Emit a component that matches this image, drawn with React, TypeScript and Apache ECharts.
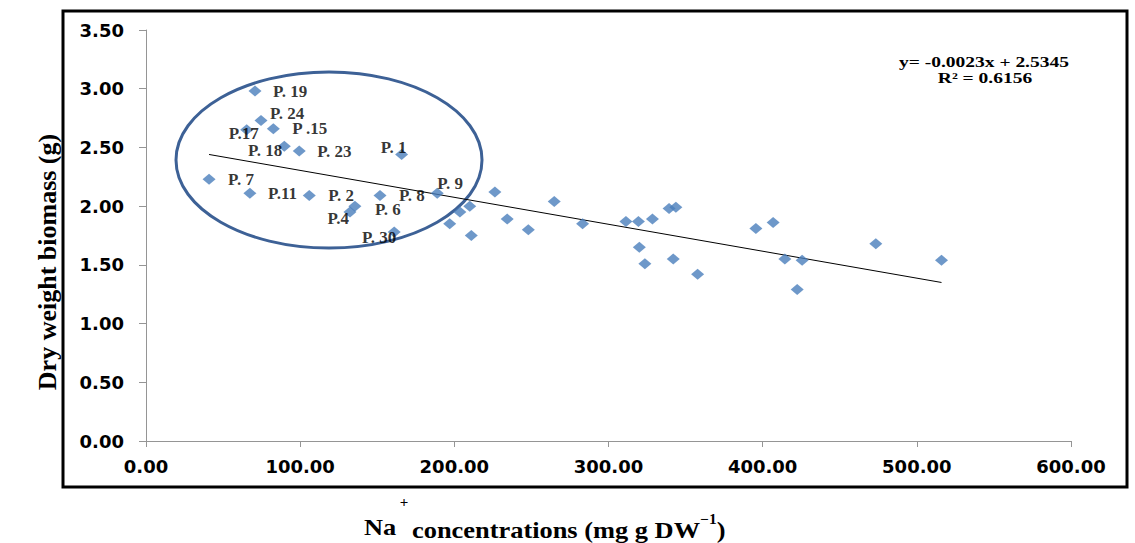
import React, { useEffect, useRef } from "react";
import * as echarts from "echarts";

// Na+ concentration (mg g DW-1) and dry weight biomass (g)
const naValues = [
  70.7, 74.6, 82.6, 65.3, 89.7, 99.4, 165.8, 40.9, 67.4, 105.9, 151.8, 188.9, 135.5, 132.3, 161.0,
  203.6, 210.0, 197.0, 211.0, 226.3, 234.3, 248.0, 264.8, 283.2, 311.3, 319.4, 328.5, 339.3, 343.7,
  320.0, 323.6, 342.0, 357.8, 395.6, 406.8, 414.4, 425.6, 422.4, 473.4, 516.0,
];
const biomassValues = [
  2.98, 2.73, 2.66, 2.65, 2.51, 2.47, 2.44, 2.23, 2.11, 2.09, 2.09, 2.11, 2.0, 1.95, 1.78,
  1.95, 2.0, 1.85, 1.75, 2.12, 1.89, 1.8, 2.04, 1.85, 1.87, 1.87, 1.89, 1.98, 1.99,
  1.65, 1.51, 1.55, 1.42, 1.81, 1.86, 1.55, 1.54, 1.29, 1.68, 1.54,
];
const pointLabels = [
  "P. 19", "P. 24", "P .15", "P.17", "P. 18", "P. 23", "P. 1", "P. 7", "P.11", "P. 2", "P. 8", "P. 9", "P. 6", "P.4", "P. 30",
];
// trend line end points
const trendX = [40.9, 516.0];
const trendY = [2.44, 1.35];
const yTicks = [0, 0.5, 1.0, 1.5, 2.0, 2.5, 3.0, 3.5];
const xTicks = [0, 100, 200, 300, 400, 500, 600];
const equationText = "y= -0.0023x + 2.5345";
const r2Text = "R\u00B2 = 0.6156";

// label placement (style only)
const labelPlacement: Record<string, { align: string; dx: number; dy: number }> = {
  "P. 19": { align: "left", dx: 18, dy: 0 },
  "P. 24": { align: "left", dx: 9, dy: -7 },
  "P .15": { align: "left", dx: 19, dy: 0 },
  "P.17": { align: "left", dx: -18, dy: 4 },
  "P. 18": { align: "right", dx: -2, dy: 4 },
  "P. 23": { align: "left", dx: 18, dy: 1 },
  "P. 1": { align: "right", dx: 5, dy: -7 },
  "P. 7": { align: "left", dx: 19, dy: 0 },
  "P.11": { align: "left", dx: 18, dy: 0 },
  "P. 2": { align: "left", dx: 19, dy: 0 },
  "P. 8": { align: "left", dx: 19, dy: 0 },
  "P. 9": { align: "left", dx: 0, dy: -10 },
  "P. 6": { align: "left", dx: 20, dy: 3 },
  "P.4": { align: "right", dx: -1, dy: 6 },
  "P. 30": { align: "right", dx: 2, dy: 6 },
};

const SERIF = "'Liberation Serif', 'Times New Roman', serif";
const SANS = "'DejaVu Sans', sans-serif";

export default function App() {
  const ref = useRef<HTMLDivElement>(null);
  useEffect(() => {
    if (!ref.current) return;
    const chart = echarts.init(ref.current, undefined, { renderer: "svg" });
    const scatterData = naValues.map((x, i) => {
      const name = pointLabels[i];
      const item: any = { value: [x, biomassValues[i]] };
      if (name) {
        const p = labelPlacement[name];
        item.name = name;
        item.label = {
          show: true,
          formatter: name,
          position: "inside",
          align: p.align,
          verticalAlign: "middle",
          offset: [p.dx, p.dy],
          color: "#000",
          fontFamily: SERIF,
          fontWeight: "bold",
          fontSize: 17,
        };
      }
      return item;
    });
    const axisLabelBase = {
      fontFamily: SANS,
      fontWeight: "bold",
      fontSize: 18,
      color: "#000",
      formatter: (v: number) => v.toFixed(2),
    };
    chart.setOption({
      animation: false,
      backgroundColor: "#fff",
      grid: { left: 146, right: 64, top: 30, bottom: 102 },
      xAxis: {
        type: "value",
        min: xTicks[0],
        max: xTicks[xTicks.length - 1],
        interval: xTicks[1] - xTicks[0],
        splitLine: { show: false },
        axisLine: { show: true, onZero: false, lineStyle: { color: "#959595", width: 1 } },
        axisTick: { show: true, length: 6, lineStyle: { color: "#959595" } },
        axisLabel: { ...axisLabelBase, margin: 16 },
      },
      yAxis: {
        type: "value",
        min: yTicks[0],
        max: yTicks[yTicks.length - 1],
        interval: yTicks[1] - yTicks[0],
        splitLine: { show: false },
        axisLine: { show: true, onZero: false, lineStyle: { color: "#959595", width: 1 } },
        axisTick: { show: true, length: 7, lineStyle: { color: "#959595" } },
        axisLabel: { ...axisLabelBase, margin: 22 },
      },
      series: [
        {
          type: "line",
          data: trendX.map((x, i) => [x, trendY[i]]),
          symbol: "none",
          lineStyle: { color: "#000", width: 1 },
          z: 2,
          silent: true,
        },
        {
          type: "scatter",
          symbol: "diamond",
          symbolSize: [13, 11],
          itemStyle: { color: "#4a7ebb" },
          data: scatterData,
          z: 3,
        },
      ],
      graphic: [
        {
          type: "rect",
          shape: { x: 63, y: 11, width: 1064, height: 476 },
          style: { fill: "none", stroke: "#000", lineWidth: 3 },
          silent: true,
        },
        {
          type: "ellipse",
          shape: { cx: 329, cy: 160, rx: 153, ry: 88 },
          style: { fill: "none", stroke: "#3d6196", lineWidth: 3 },
          silent: true,
        },
        {
          type: "text",
          x: 984,
          y: 62,
          scaleX: 1.3,
          style: {
            text: equationText,
            align: "center",
            verticalAlign: "middle",
            fontFamily: SERIF,
            fontWeight: "bold",
            fontSize: 15,
            fill: "#000",
          },
        },
        {
          type: "text",
          x: 985,
          y: 78,
          scaleX: 1.3,
          style: {
            text: r2Text,
            align: "center",
            verticalAlign: "middle",
            fontFamily: SERIF,
            fontWeight: "bold",
            fontSize: 15,
            fill: "#000",
          },
        },
        {
          type: "text",
          x: 47,
          y: 262,
          rotation: Math.PI / 2,
          style: {
            text: "Dry weight biomass (g)",
            align: "center",
            verticalAlign: "middle",
            fontFamily: SERIF,
            fontWeight: "bold",
            fontSize: 26,
            fill: "#000",
          },
        },
        {
          type: "text",
          x: 364,
          y: 527,
          scaleX: 1.1,
          style: {
            text: "Na",
            align: "left",
            verticalAlign: "middle",
            fontFamily: SERIF,
            fontWeight: "bold",
            fontSize: 24,
            fill: "#000",
          },
        },
        {
          type: "text",
          x: 404,
          y: 502,
          style: {
            text: "+",
            align: "center",
            verticalAlign: "middle",
            fontFamily: SERIF,
            fontWeight: "bold",
            fontSize: 15,
            fill: "#000",
          },
        },
        {
          type: "text",
          x: 412,
          y: 527,
          scaleX: 1.1,
          style: {
            text: "{n|concentrations (mg g DW}{s|\u22121}{n|)}",
            align: "left",
            verticalAlign: "middle",
            rich: {
              n: {
                fontFamily: SERIF,
                fontWeight: "bold",
                fontSize: 24,
                lineHeight: 30,
                verticalAlign: "bottom",
                fill: "#000",
              },
              s: {
                fontFamily: SERIF,
                fontWeight: "bold",
                fontSize: 14,
                lineHeight: 14,
                verticalAlign: "top",
                fill: "#000",
              },
            },
          },
        },
      ],
    });
    return () => chart.dispose();
  }, []);
  return (
    <div
      ref={ref}
      style={{ position: "fixed", left: 0, top: 0, width: 1135, height: 543, background: "#fff" }}
    />
  );
}
